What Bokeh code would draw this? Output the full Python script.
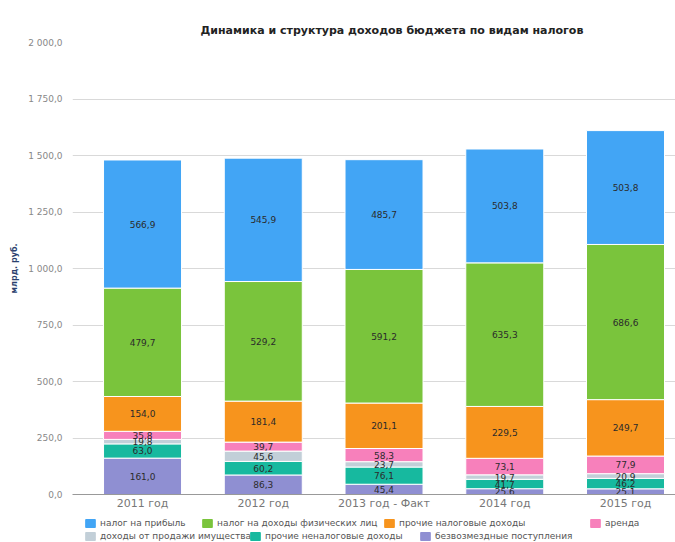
import numpy as np
from bokeh.plotting import figure
from bokeh.layouts import column
from bokeh.models import ColumnDataSource, Legend, LegendItem, FixedTicker, Range1d
from bokeh.core.properties import value
from bokeh.embed import file_html
from bokeh.resources import INLINE

categories = ["2011 год", "2012 год", "2013 год - Факт", "2014 год", "2015 год"]

# bottom -> top stacking order
names = ["безвозмездные поступления", "прочие неналоговые доходы",
         "доходы от продажи имущества", "аренда", "прочие налоговые доходы",
         "налог на доходы физических лиц", "налог на прибыль"]
bezvozm = [161.0, 86.3, 45.4, 25.6, 25.1]
proch_nenalog = [63.0, 60.2, 76.1, 41.7, 46.2]
prodazha = [19.8, 45.6, 23.7, 19.7, 20.9]
arenda = [35.8, 39.7, 58.3, 73.1, 77.9]
proch_nalog = [154.0, 181.4, 201.1, 229.5, 249.7]
ndfl = [479.7, 529.2, 591.2, 635.3, 686.6]
pribyl = [566.9, 545.9, 485.7, 503.8, 503.8]
colors = ["#8f8fd2", "#17b99f", "#c2cfd8", "#f780bb", "#f7941d", "#7ac43c", "#42a5f5"]

yticks = [0, 250, 500, 750, 1000, 1250, 1500, 1750, 2000]
ytick_labels = ["0,0", "250,0", "500,0", "750,0", "1 000,0", "1 250,0", "1 500,0", "1 750,0", "2 000,0"]

series = [bezvozm, proch_nenalog, prodazha, arenda, proch_nalog, ndfl, pribyl]
keys = ["s%d" % i for i in range(len(series))]
xs = list(range(len(categories)))
data = {"x": xs}
for k, s in zip(keys, series):
    data[k] = s
source = ColumnDataSource(data)

FONT = "DejaVu Sans"
W = 675

p = figure(width=W, height=512, output_backend="svg", toolbar_location=None,
           x_range=Range1d(-0.58, 4.414), y_range=Range1d(0, 2000),
           min_border_left=72, min_border_right=0, min_border_top=42,
           min_border_bottom=17,
           title="Динамика и структура доходов бюджета по видам налогов")
p.title.text_font = FONT
p.title.text_font_size = "11px"
p.title.text_font_style = "bold"
p.title.text_color = "#222222"
p.title.align = "left"
p.title.offset = 128
p.title.standoff = 12

p.outline_line_color = None
p.background_fill_color = "white"

renderers = p.vbar_stack(keys, x="x", width=0.646, color=colors, source=source,
                         line_color="white", line_width=1)

# segment labels
cum = np.zeros(len(categories))
lx, ly, lt = [], [], []
for s in series:
    arr = np.array(s)
    mids = cum + arr / 2.0
    for i, v in enumerate(s):
        lx.append(xs[i]); ly.append(mids[i]); lt.append(("%.1f" % v).replace(".", ","))
    cum = cum + arr
p.text(x=lx, y=ly, text=lt, text_align="center", text_baseline="middle",
       text_font=value(FONT), text_font_size="9px", text_color="#2b2b2b")

# axes
p.xaxis.ticker = FixedTicker(ticks=xs)
p.xaxis.major_label_overrides = {i: c for i, c in enumerate(categories)}
p.xaxis.major_label_text_font = FONT
p.xaxis.major_label_text_font_size = "11px"
p.xaxis.major_label_text_color = "#777777"
p.xaxis.major_tick_line_color = None
p.xaxis.minor_tick_line_color = None
p.xaxis.major_tick_out = 0
p.xaxis.major_tick_in = 0
p.xaxis.axis_line_color = "#999999"
p.xaxis.major_label_standoff = 2

p.yaxis.ticker = FixedTicker(ticks=yticks)
p.yaxis.major_label_overrides = {t: l for t, l in zip(yticks, ytick_labels)}
p.yaxis.major_label_text_font = FONT
p.yaxis.major_label_text_font_size = "9px"
p.yaxis.major_label_text_color = "#888888"
p.yaxis.major_tick_line_color = None
p.yaxis.minor_tick_line_color = None
p.yaxis.major_tick_out = 0
p.yaxis.major_tick_in = 0
p.yaxis.axis_line_color = None
p.yaxis.major_label_standoff = 10
p.yaxis.axis_label = "млрд. руб."
p.yaxis.axis_label_text_font = FONT
p.yaxis.axis_label_text_font_size = "8px"
p.yaxis.axis_label_text_font_style = "bold"
p.yaxis.axis_label_text_color = "#2a3f6e"
p.yaxis.axis_label_standoff = 6

p.xgrid.grid_line_color = None
p.ygrid.grid_line_color = "#d9d9d9"

# legend strip (separate small figure below the chart)
lf = figure(width=W, height=30, output_backend="svg", toolbar_location=None,
            x_axis_location=None, y_axis_location=None,
            min_border_left=0, min_border_right=0, min_border_top=0, min_border_bottom=0,
            x_range=Range1d(0, 1), y_range=Range1d(0, 1))
lf.outline_line_color = None
lf.xgrid.grid_line_color = None
lf.ygrid.grid_line_color = None
# off-screen proxies so the legend has glyphs to draw
dummies = [lf.vbar(x=[-5], top=[-5], bottom=[-6], width=0.1, color=c) for c in colors]

# (series index, x, y) for each legend entry, relative to the strip's frame
legend_pos = [(6, 12, 14), (5, 129, 14), (4, 311, 14), (3, 517, 14),
              (2, 12, 1), (1, 177, 1), (0, 347, 1)]
for idx, lxp, lyp in legend_pos:
    lg = Legend(items=[LegendItem(label=names[idx], renderers=[dummies[idx]])],
                location=(lxp, lyp), orientation="horizontal",
                label_text_font=FONT, label_text_font_size="9px",
                label_text_color="#555555", glyph_width=12, glyph_height=10,
                label_height=10, label_standoff=4, padding=0, margin=0,
                border_line_color=None, background_fill_alpha=0)
    lf.add_layout(lg, "center")

open("out.html", "w").write(file_html(column(p, lf, spacing=0), INLINE))
